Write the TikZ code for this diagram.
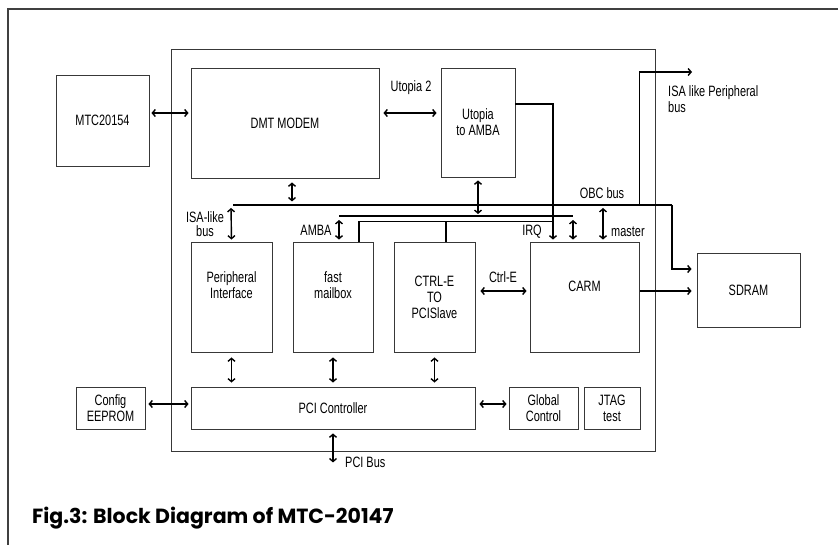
\documentclass[tikz,border=0pt]{standalone}
\usepackage{fontspec}
\setmainfont{Liberation Sans}[FakeStretch=0.73]
\newfontfamily\capfont{Poppins}
\usetikzlibrary{arrows.meta}
\newcommand\lbl{\fontsize{15}{16}\selectfont}
\tikzset{
  box/.style={draw=black!78, line width=0.9pt, inner sep=0pt, align=center, font=\lbl},
  lab/.style={inner sep=0pt, font=\lbl},
  bus/.style={line width=2pt},
  wire/.style={line width=1.5pt},
  tip/.tip={Straight Barb[length=3pt,width=7pt]},
  dar/.style={line width=1.4pt, tip-tip},
  sar/.style={line width=1.4pt, -tip},
}
\begin{document}
\begin{tikzpicture}[x=1pt,y=-1pt]
\useasboundingbox (0,0) rectangle (838,545);
\fill[white] (0,0) rectangle (838,545);
\draw[black!75, line width=1.4pt] (8,545) -- (8,9) -- (838,9);

\node[box, minimum width=484, minimum height=402] (chip) at (413,250) {};
\node[box, minimum width=93, minimum height=91] (mtc) at (102.5,120.5) {MTC20154};
\node[box, minimum width=188, minimum height=110] (dmt) at (285,123) {DMT MODEM};
\node[box, minimum width=74, minimum height=109] (uta) at (478,122.5) {Utopia\\to AMBA};
\node[box, minimum width=81, minimum height=110] (per) at (231.5,297) {Peripheral\\Interface\\[8pt]};
\node[box, minimum width=80, minimum height=110] (fmb) at (333,297) {fast\\mailbox\\[8pt]};
\node[box, minimum width=81, minimum height=110] (ctl) at (434.5,297) {CTRL-E\\TO\\PCISlave};
\node[box, minimum width=109, minimum height=110] (carm) at (584.5,297) {CARM\\[6pt]};
\node[box, minimum width=103, minimum height=74] (sdram) at (748.5,290) {SDRAM};
\node[box, minimum width=284, minimum height=42] (pci) at (333,408) {PCI Controller};
\node[box, minimum width=69, minimum height=42] (cfg) at (110.5,408) {Config\\EEPROM};
\node[box, minimum width=69, minimum height=42] (glob) at (543.5,408) {Global\\Control};
\node[box, minimum width=56, minimum height=42] (jtag) at (612,408) {JTAG\\test};

\coordinate (obcL) at (233,205);
\coordinate (obcR) at (672,205);
\coordinate (ambaL) at (339,216);
\coordinate (ambaR) at (573,216);
\coordinate (mst) at (603,205);
\coordinate (isaP) at (692,72);

% buses
\draw[bus] (obcL) -- (obcR);
\draw[sar] (obcR) |- ([shift={(-5,-21)}]sdram.west);
\draw[sar] (carm.east |- obcL) |- (isaP);
\draw[wire] (ambaL) -- (ambaR);
\draw[wire] ([xshift=26pt]fmb.north) |- ([shift={(-31.5,-20)}]carm.north);
\draw[wire] ([xshift=11.5pt]ctl.north) -- ++(0,-20);
\draw[sar] ([yshift=18.5pt]uta.east) -| ([shift={(-31.5,-2)}]carm.north);

% arrows
\draw[dar] ([shift={(2,-7.5)}]mtc.east) -- ([shift={(-2,-10)}]dmt.west);
\draw[dar] ([shift={(4,-10)}]dmt.east) -- ([shift={(-4,-9.5)}]uta.west);
\draw[dar] ([shift={(7,4)}]dmt.south) -- ++(0,19);
\draw[dar] ([yshift=-3pt]uta.south) -- ([yshift=2pt]uta.south |- ambaL);
\draw[dar] ([shift={(-2,3)}]obcL) -- ([yshift=2pt]per.north);
\draw[dar] ([yshift=-4pt]ambaL) -- ([yshift=2pt]ambaL |- fmb.north);
\draw[dar] ([yshift=-4pt]ambaR) -- ([yshift=2pt]ambaR |- carm.north);
\draw[dar] ([yshift=-3pt]mst) -- ([yshift=2pt]mst |- carm.north);
\draw[dar] ([shift={(5,-6)}]ctl.east) -- ([shift={(-3,-6)}]ctl.east -| carm.west);
\draw[sar] ([shift={(1,-6)}]carm.east) -- ([shift={(-5,-6)}]carm.east -| sdram.west);
\draw[dar] ([yshift=-5pt]per.south) -- ([yshift=4pt]per.south |- pci.north);
\draw[dar] ([yshift=-5pt]fmb.south) -- ([yshift=4pt]fmb.south |- pci.north);
\draw[dar] ([yshift=-5pt]ctl.south) -- ([yshift=4pt]ctl.south |- pci.north);
\draw[dar] ([shift={(3,-4)}]cfg.east) -- ([shift={(-2,-4)}]pci.west);
\draw[dar] ([shift={(4,-4)}]pci.east) -- ([shift={(-2,-4)}]glob.west);
\draw[dar] ([yshift=-4pt]pci.south) -- ++(0,29);

% labels
\node[lab] (lu2) at (411,88) {Utopia 2};
\node[lab, anchor=west, align=left] (lisa) at (668,99) {ISA like Peripheral\\bus};
\node[lab] (lobc) at (602,193) {OBC bus};
\node[lab] (lirq) at (532,232) {IRQ};
\node[lab, anchor=west] (lmst) at (611,232) {master};
\node[lab] (lamba) at (316,230) {AMBA};
\node[lab] (lisa1) at (205,217) {ISA-like};
\node[lab] (lisa2) at (205,231) {bus};
\node[lab] (lctrl) at (503,277) {Ctrl-E};
\node[lab, anchor=west] (lpci) at (345,462) {PCI Bus};
\node[anchor=base west, inner sep=0pt, font=\capfont\bfseries\fontsize{20.5}{24}\selectfont] (cap) at (32,523) {Fig.3: Block Diagram of MTC-20147};
\end{tikzpicture}
\end{document}
